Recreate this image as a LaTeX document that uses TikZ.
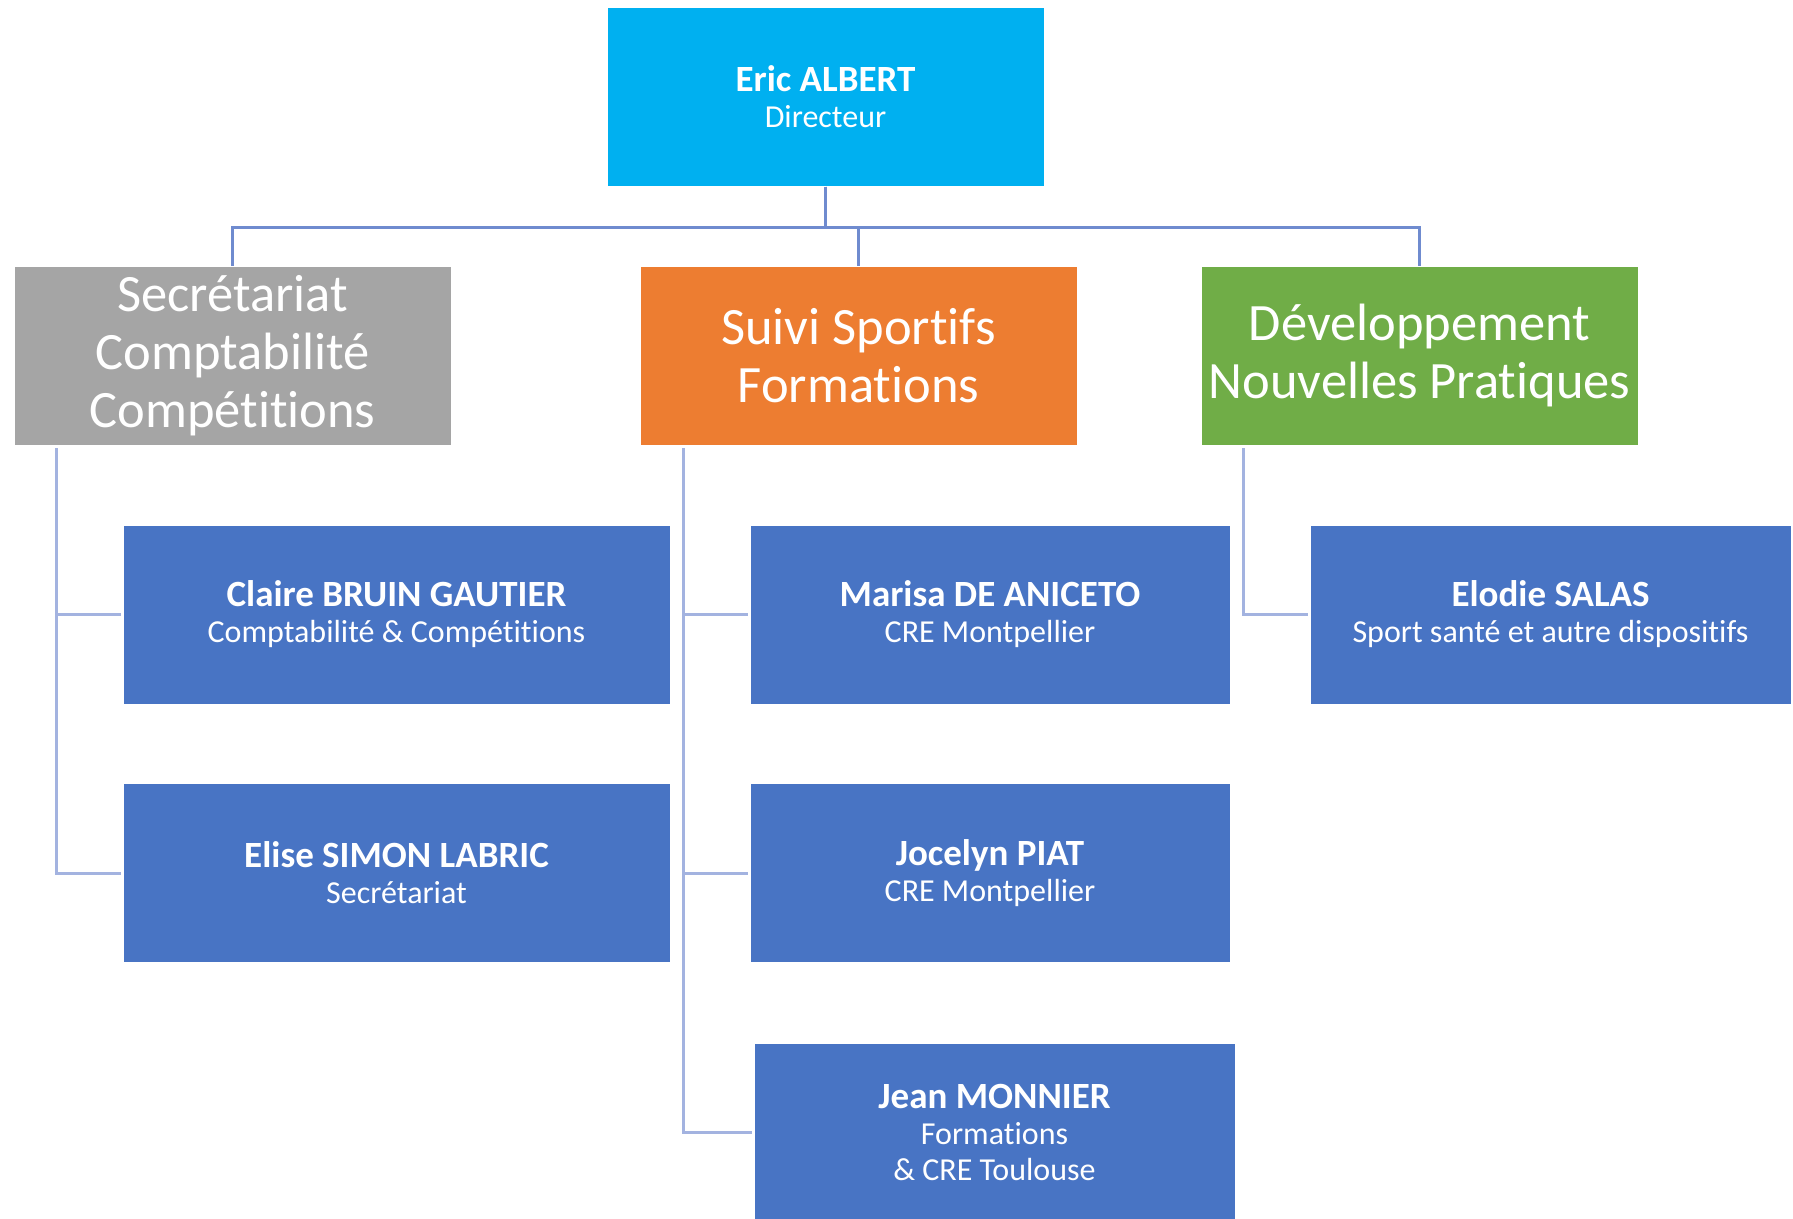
\documentclass[tikz,border=0pt]{standalone}
\usepackage{fontspec}
\setmainfont[Ligatures=NoCommon]{Carlito}
\definecolor{topc}{HTML}{00B0F0}
\definecolor{grayc}{HTML}{A5A5A5}
\definecolor{orangec}{HTML}{ED7D31}
\definecolor{greenc}{HTML}{70AD47}
\definecolor{bluec}{HTML}{4874C4}
\definecolor{lineA}{HTML}{6F8BCF}
\definecolor{lineB}{HTML}{A3B3E0}
\tikzset{
  box/.style={fill=#1, draw=white, line width=1pt, text=white, align=center, inner sep=0pt},
  headbox/.style={box=#1, minimum width=437pt, minimum height=179pt, font=\fontsize{52.5}{58}\selectfont},
  personbox/.style={box=bluec, minimum height=179pt, font=\fontsize{32}{36}\selectfont},
  connA/.style={draw=lineA, line width=3pt},
  connB/.style={draw=lineB, line width=3pt},
}
\newcommand{\pname}[1]{{\fontsize{37}{36}\selectfont\bfseries #1}}
\begin{document}
\begin{tikzpicture}[x=1pt,y=-1pt]
\useasboundingbox[fill=white] (0,0) rectangle (1793,1218);
\node[box=topc, minimum width=437pt, minimum height=179pt, font=\fontsize{32}{36}\selectfont] (top) at (825.5,96.5) {\pname{Eric ALBERT}\\Directeur};
\node[headbox=grayc] (gray) at (232.5,355.5) {Secrétariat\\Comptabilité\\Compétitions};
\node[headbox=orangec] (orange) at (858.5,355.5) {Suivi Sportifs\\Formations};
\node[headbox=greenc] (green) at (1419.5,355.5) {Développement\\Nouvelles Pratiques};
\node[personbox, minimum width=547pt] (claire) at (396.5,614.5) {\pname{Claire BRUIN GAUTIER}\\Comptabilité \& Compétitions};
\node[personbox, minimum width=547pt] (elise) at (396.5,873) {\pname{Elise SIMON LABRIC}\\Secrétariat};
\node[personbox, minimum width=480pt] (marisa) at (990,614.5) {\pname{Marisa DE ANICETO}\\CRE Montpellier};
\node[personbox, minimum width=480pt] (jocelyn) at (990,873) {\pname{Jocelyn PIAT}\\CRE Montpellier};
\node[personbox, minimum width=481pt] (jean) at (994.5,1132.5) {\pname{Jean MONNIER}\\Formations\\\& CRE Toulouse};
\node[personbox, minimum width=481pt] (elodie) at (1550.5,614.5) {\pname{Elodie SALAS}\\Sport santé et autre dispositifs};
% top-level connectors
\draw[connA] (top.south) -- ++(0,41) -| (gray.north);
\draw[connA] (top.south) -- ++(0,41) -| (orange.north);
\draw[connA] (top.south) -- ++(0,41) -| (green.north);
% branch connectors
\coordinate (gl) at (56,448);
\coordinate (ol) at (683,448);
\coordinate (nl) at (1243,448);
\draw[connB] (gl) |- ([xshift=-2pt]claire.west);
\draw[connB] (gl) |- ([xshift=-2pt]elise.west);
\draw[connB] (ol) |- ([xshift=-2pt]marisa.west);
\draw[connB] (ol) |- ([xshift=-2pt]jocelyn.west);
\draw[connB] (ol) |- ([xshift=-2pt]jean.west);
\draw[connB] (nl) |- ([xshift=-2pt]elodie.west);
\end{tikzpicture}
\end{document}
